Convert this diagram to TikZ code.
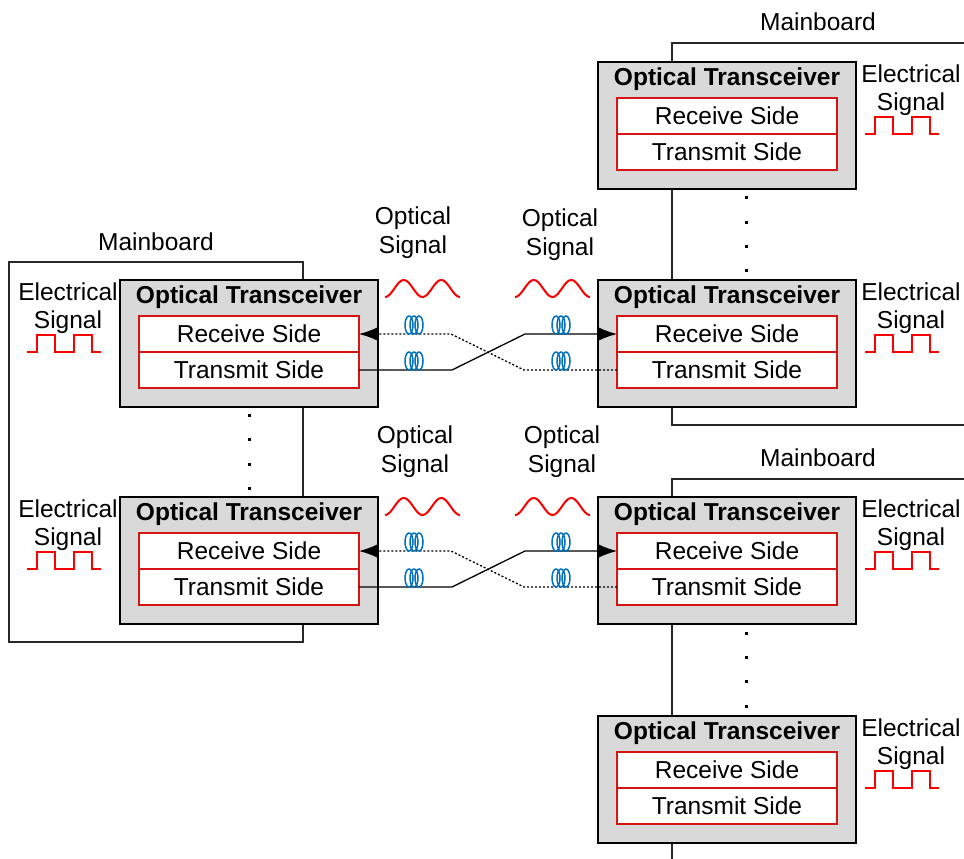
\documentclass[tikz,border=0pt]{standalone}
\usepackage{fontspec}
\setmainfont{Liberation Sans}
\usetikzlibrary{arrows.meta,positioning}
\definecolor{boxgray}{RGB}{217,217,217}
\definecolor{sigred}{RGB}{250,0,0}
\definecolor{linered}{RGB}{215,20,20}
\definecolor{coilblue}{RGB}{0,112,192}
\definecolor{boardline}{RGB}{40,40,40}

\begin{document}
\begin{tikzpicture}[x=1pt,y=-1pt,>={Latex[length=19pt,width=14pt]},font=\fontsize{24.5}{28.5}\selectfont,
  trbox/.style={draw,line width=1.4pt,fill=boxgray,minimum width=258pt,minimum height=127pt,inner sep=0pt},
  sidebox/.style={draw=linered,line width=1.2pt,fill=white,minimum width=220pt,minimum height=36pt,inner sep=0pt,outer sep=0pt},
  trtitle/.style={font=\fontsize{24.5}{28.5}\selectfont\bfseries,inner sep=0pt},
  lbl/.style={align=center,inner sep=0pt},
  board/.style={draw=boardline,line width=1.2pt},
  sq/.style={sigred,line width=2pt},
  wave/.style={sigred,line width=2pt},
  coil/.style={coilblue,line width=1.5pt},
  fiber/.style={line width=1.3pt},
  backfiber/.style={fiber,dash pattern=on 2pt off 2pt}]
\useasboundingbox (0,0) rectangle (964,859);
% mainboards
\draw[board] (9,262) rectangle (303,642);
\draw[board] (964,43) -- (672,43) -- (672,425) -- (964,425);
\draw[board] (964,479) -- (672,479) -- (672,859);
\node (mb1) at (156,242) {Mainboard};
\node (mb2) at (818,22) {Mainboard};
\node (mb3) at (818,458) {Mainboard};
% transceivers with their electrical signal
\foreach \n/\x/\y/\ex/\sx in {lt1/249/280/68/27,lt2/249/497/68/27,rt1/727/62/911/865,rt2/727/280/911/865,rt3/727/497/911/865,rt4/727/716/911/865}{
  \node[trbox] (\n) at (\x,\y+63.5) {};
  \node[trtitle] (\n t) at (\x,\y+17) {Optical Transceiver};
  \node[sidebox,anchor=north] (\n rx) at (\x,\y+36) {Receive Side};
  \node[sidebox,below=0pt of \n rx] (\n tx) {Transmit Side};
  \node[lbl] (\n e) at (\ex,\y+28) {Electrical\\Signal};
  \draw[sq] (\sx,\y+72) -- ++(10,0) -- ++(0,-17) -- ++(18,0) -- ++(0,17) -- ++(19,0)
    -- ++(0,-17) -- ++(18,0) -- ++(0,17) -- ++(9,0);
}
% fibres
\draw[fiber,->] (lt1tx.east) -- ++(93,0) -- ++(73,-36) -- (rt2rx.west);
\draw[backfiber,->] (rt2tx.west) -- ++(-93,0) -- ++(-73,-36) -- (lt1rx.east);
\draw[fiber,->] (lt2tx.east) -- ++(93,0) -- ++(73,-36) -- (rt3rx.west);
\draw[backfiber,->] (rt3tx.west) -- ++(-93,0) -- ++(-73,-36) -- (lt2rx.east);
\foreach \cx in {414,561}
  \foreach \cy in {334,370,551,587}
    \foreach \dx in {-5,0,5}
      \draw[coil] (\cx+\dx,\cy-9) ellipse [x radius=4pt,y radius=9pt];
% optical signals
\node[lbl] (os1) at (413,232.5) {Optical\\Signal};
\node[lbl] (os2) at (560,234.5) {Optical\\Signal};
\node[lbl] (os3) at (415,451.5) {Optical\\Signal};
\node[lbl] (os4) at (562,451.5) {Optical\\Signal};
\foreach \a/\b in {385/297,515/297,385/515,515/515}
  \draw[wave] plot[domain=0:75,samples=60,smooth] ({\a+\x},{\b-8.5+8.5*cos(\x*9.6)});
% dots
\foreach \px/\py in {249/415,249/439,249/464,249/488,746/197,746/222,746/246,746/270,746/633,746/657,746/681,746/706}
  \fill (\px-1.5,\py-1.5) rectangle ++(3,3);
\end{tikzpicture}
\end{document}
